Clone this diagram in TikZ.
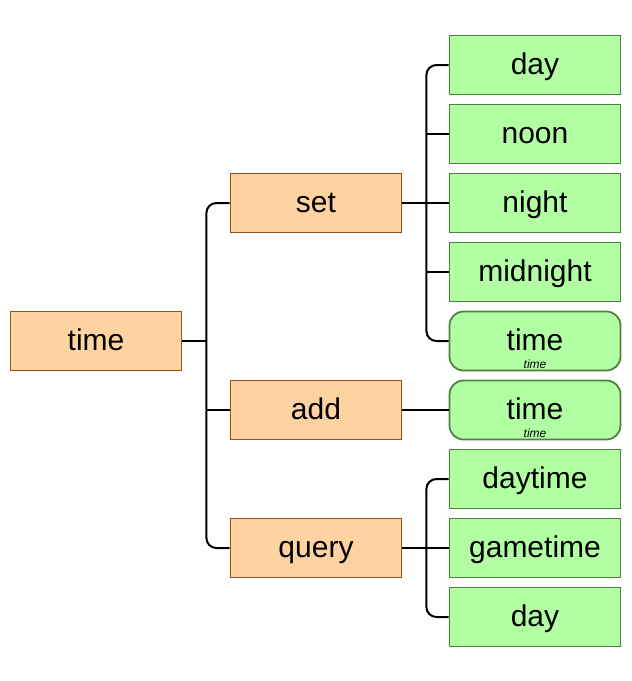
\documentclass[tikz,border=0pt]{standalone}
\usepackage{fontspec}
\setmainfont{Liberation Sans}
\usetikzlibrary{calc}
\definecolor{cmdfill}{HTML}{FFD3A1}
\definecolor{cmddraw}{HTML}{95501C}
\definecolor{leaffill}{HTML}{B2FFA3}
\definecolor{leafdraw}{HTML}{4C8240}
\tikzset{
  % --- boxes ------------------------------------------------------------
  base/.style ={draw, line width=1.8pt, minimum width=171pt, minimum height=59pt,
                inner sep=0pt, align=center, text height=18pt, text depth=0pt,
                font=\fontsize{30}{32}\selectfont},
  cmd/.style  ={base, fill=cmdfill, draw=cmddraw},                 % command word
  leaf/.style ={base, fill=leaffill, draw=leafdraw},               % literal argument
  arg/.style  ={leaf, rounded corners=14pt},                       % typed argument
  sub/.style  ={font=\fontsize{12}{12}\selectfont\itshape, inner sep=3pt},
  % --- connectors ---------------------------------------------------------
  link/.style ={line width=2pt, draw=black, rounded corners=10pt},
}

\begin{document}
\begin{tikzpicture}[x=1pt, y=-1pt]
  \useasboundingbox (0,0) rectangle (632,681);

  % ============================= root =============================
  \node[cmd] (root) at (96,341) {time};

  % ============================= sub commands =============================
  \node[cmd] (set)   at (316,203) {set};
  \node[cmd] (add)   at (316,410) {add};
  \node[cmd] (query) at (316,548) {query};

  % ============================= arguments =============================
  \node[leaf] (setday)      at (535,65)  {day};
  \node[leaf] (setnoon)     at (535,134) {noon};
  \node[leaf] (setnight)    at (535,203) {night};
  \node[leaf] (setmidnight) at (535,272) {midnight};
  \node[arg, label={[sub, anchor=south]south:time}] (settime) at (535,341) {time};
  \node[arg, label={[sub, anchor=south]south:time}] (addtime) at (535,410) {time};
  \node[leaf] (qdaytime)  at (535,479) {daytime};
  \node[leaf] (qgametime) at (535,548) {gametime};
  \node[leaf] (qday)      at (535,617) {day};

  % ============================= edges =============================
  % root -> sub commands
  \coordinate (rootfork) at ($(root.east)+(24,0)$);
  \draw[link] (root.east) -- (rootfork);
  \draw[link] (rootfork) |- (set.west);
  \draw[link] (rootfork) |- (query.west);
  \draw[link] (add.west -| rootfork) -- (add.west);
  % set -> values
  \coordinate (setfork) at ($(set.east)+(24,0)$);
  \draw[link] (set.east) -- (setnight.west);
  \draw[link] (setfork) |- (setday.west);
  \draw[link] (setfork) |- (settime.west);
  \draw[link] (setnoon.west -| setfork) -- (setnoon.west);
  \draw[link] (setmidnight.west -| setfork) -- (setmidnight.west);
  % add -> value
  \draw[link] (add.east) -- (addtime.west);
  % query -> values
  \coordinate (qfork) at ($(query.east)+(24,0)$);
  \draw[link] (query.east) -- (qgametime.west);
  \draw[link] (qfork) |- (qdaytime.west);
  \draw[link] (qfork) |- (qday.west);

\end{tikzpicture}
\end{document}
